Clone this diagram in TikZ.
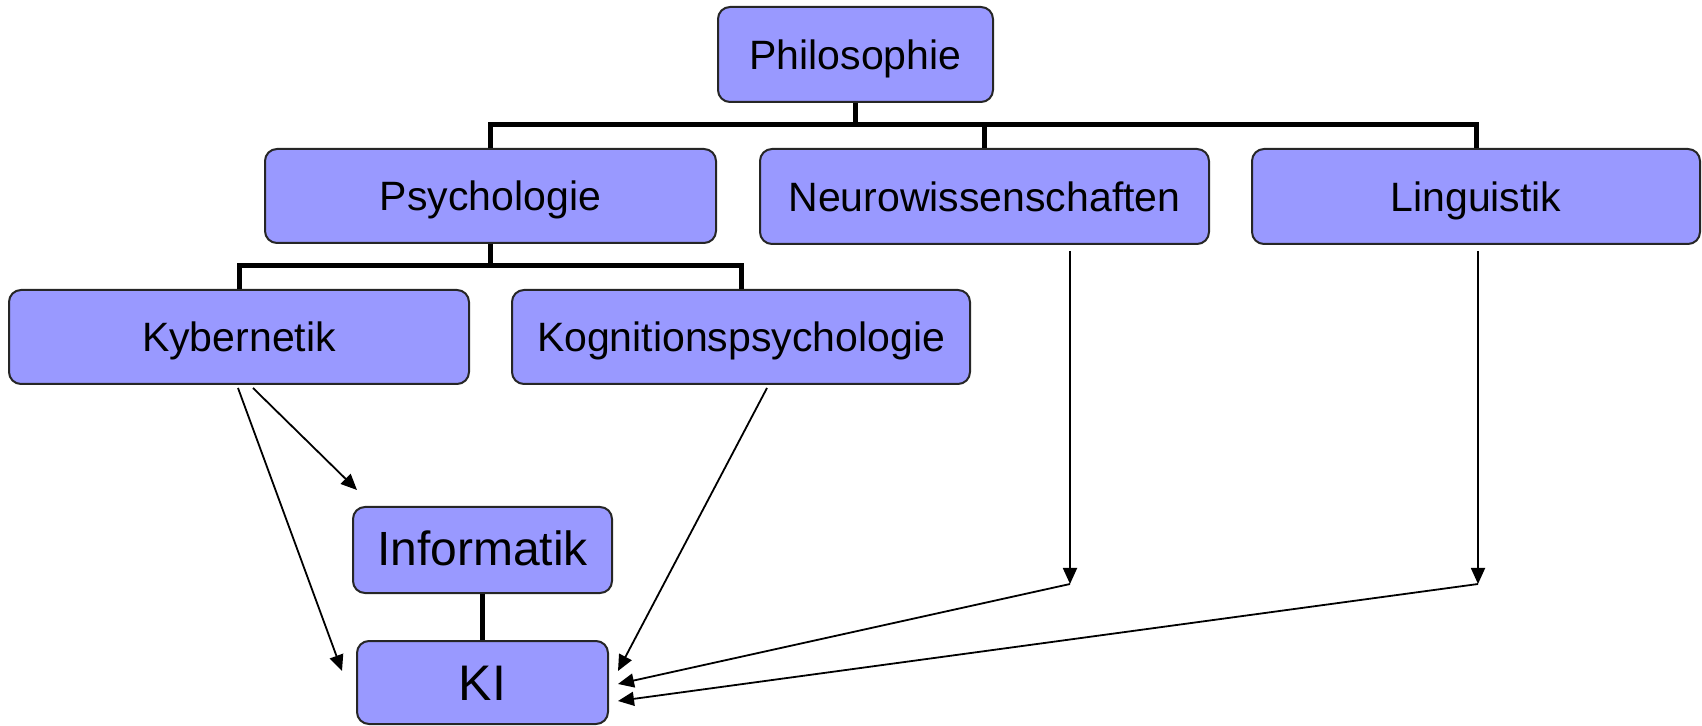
\documentclass[tikz,border=0pt]{standalone}
\usepackage{fontspec}
\setmainfont{Liberation Sans}
\usetikzlibrary{arrows.meta,calc}
\definecolor{boxblue}{HTML}{9999FF}
\begin{document}
\begin{tikzpicture}[x=0.5pt,y=-0.5pt,
  box/.style={draw=black!85, line width=1pt, fill=boxblue, rounded corners=6pt,
    inner sep=0pt, text height=15pt, text depth=0pt,
    font=\fontsize{20.5}{24}\selectfont},
  tree/.style={line width=2.5pt, black},
  link/.style={line width=0.9pt, black, -{Triangle[length=8pt,width=7pt]}}]
\useasboundingbox (0,0) rectangle (1702,726);

% boxes
\node[box, minimum width=137.5pt, minimum height=47.5pt] (phil)  at (855.5,54.5) {Philosophie};
\node[box, minimum width=225.5pt, minimum height=47pt]   (psych) at (490.5,196)  {Psychologie};
\node[box, minimum width=224.5pt, minimum height=47.5pt] (neuro) at (984.5,196.5) {Neurowissenschaften};
\node[box, minimum width=224pt,   minimum height=47.5pt] (ling)  at (1476,196.5) {Linguistik};
\node[box, minimum width=230pt,   minimum height=47pt]   (kyb)   at (239,337)    {Kybernetik};
\node[box, minimum width=229pt,   minimum height=47pt]   (kogn)  at (741,337)    {Kognitionspsychologie};
\node[box, minimum width=129.5pt, minimum height=43pt, text height=15.7pt,
  font=\fontsize{24}{28}\selectfont] (info) at (482.5,550) {Informatik};
\node[box, minimum width=125.5pt, minimum height=41.5pt, text height=18pt,
  font=\fontsize{25}{30}\selectfont] (ki) at (482.5,682.5) {KI};

% levels of the tree bars
\coordinate (bar1) at (0,125);
\coordinate (bar2) at (0,266);

% hierarchy
\draw[tree] (phil.south) -- (phil.south |- bar1) -| (psych.north);
\draw[tree] (phil.south |- bar1) -| (neuro.north);
\draw[tree] (phil.south |- bar1) -| (ling.north);
\draw[tree] (psych.south) -- (psych.south |- bar2) -| (kyb.north);
\draw[tree] (psych.south |- bar2) -| (kogn.north);
\draw[tree] (info.south) -- (ki.north);

% bend points of the long links
\coordinate (nbend) at ($(neuro.south)+(85.5,339)$);
\coordinate (lbend) at ($(ling.south)+(2,339)$);

% influences
\draw[link] ($(kyb.south)+(14,3)$) -- ($(info.north west)+(5,-16)$);
\draw[link] ($(kyb.south)+(-1,3)$) -- ($(ki.north west)+(-14,31)$);
\draw[link] ($(kogn.south)+(26,3)$) -- ($(ki.north east)+(9,31)$);
\draw[link] ($(neuro.south)+(85.5,6)$) -- (nbend);
\draw[link] (nbend) -- ($(ki.north east)+(9,44)$);
\draw[link] ($(ling.south)+(2,6)$) -- (lbend);
\draw[link] (lbend) -- ($(ki.north east)+(9,61)$);
\end{tikzpicture}
\end{document}
